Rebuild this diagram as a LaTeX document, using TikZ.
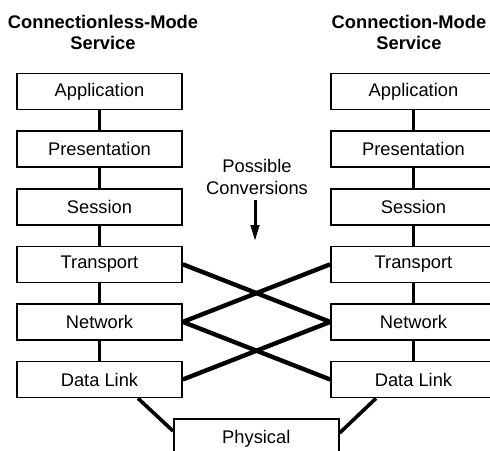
\documentclass[tikz,border=0pt]{standalone}
\usepackage{fontspec}
\setmainfont{Liberation Sans}
\usetikzlibrary{arrows.meta,positioning}
\tikzset{
  layer/.style={draw=black,fill=white,line width=1.6pt,minimum width=165pt,minimum height=36pt,inner sep=0pt,font=\fontsize{18.3}{21}\selectfont},
  title/.style={align=center,font=\fontsize{18.3}{21}\selectfont\bfseries},
  link/.style={line width=3.6pt},
  cross/.style={line width=4.4pt},
  conv/.style={-{Triangle[length=16pt,width=8.5pt]},line width=3pt},
}
\begin{document}
\begin{tikzpicture}[x=1pt,y=-1pt,node distance=20pt]
  \useasboundingbox (0,0) rectangle (490,450);
  \clip (0,0) rectangle (490,450);
  % titles
  \node[title] (tl) at (103,32) {Connectionless-Mode\\Service};
  \node[title] (tr) at (409,32) {Connection-Mode\\Service};
  % connectionless stack
  \node[layer] (ap1) at (99.5,91.5) {Application};
  \node[layer,below=of ap1] (pr1) {Presentation};
  \node[layer,below=of pr1] (se1) {Session};
  \node[layer,below=of se1] (tp1) {Transport};
  \node[layer,below=of tp1] (nw1) {Network};
  \node[layer,below=of nw1] (dl1) {Data Link};
  % connection stack
  \node[layer] (ap2) at (413.5,91.5) {Application};
  \node[layer,below=of ap2] (pr2) {Presentation};
  \node[layer,below=of pr2] (se2) {Session};
  \node[layer,below=of se2] (tp2) {Transport};
  \node[layer,below=of tp2] (nw2) {Network};
  \node[layer,below=of nw2] (dl2) {Data Link};
  % shared physical layer
  \node[layer,minimum height=40pt,anchor=north west] (phy) at (173,418) {Physical};
  % stack links
  \foreach \s in {1,2}{
    \draw[link] (ap\s) -- (pr\s);
    \draw[link] (pr\s) -- (se\s);
    \draw[link] (se\s) -- (tp\s);
    \draw[link] (tp\s) -- (nw\s);
    \draw[link] (nw\s) -- (dl\s);
  }
  \draw[link] ([xshift=38.5pt]dl1.south) -- ([yshift=-13pt]phy.north west);
  \draw[link] ([xshift=-37.5pt]dl2.south) -- ([yshift=-15pt]phy.north east);
  % conversions
  \draw[cross] (tp1.east) -- (nw2.west);
  \draw[cross] (nw1.east) -- (tp2.west);
  \draw[cross] (nw1.east) -- (dl2.west);
  \draw[cross] (dl1.east) -- (nw2.west);
  \node[align=center,font=\fontsize{18.3}{22}\selectfont] (pc) at (257,177) {Possible\\Conversions};
  \coordinate (as) at (255,200);
  \coordinate (ah) at (255,241);
  \draw[conv] (as) -- (ah);
\end{tikzpicture}
\end{document}
